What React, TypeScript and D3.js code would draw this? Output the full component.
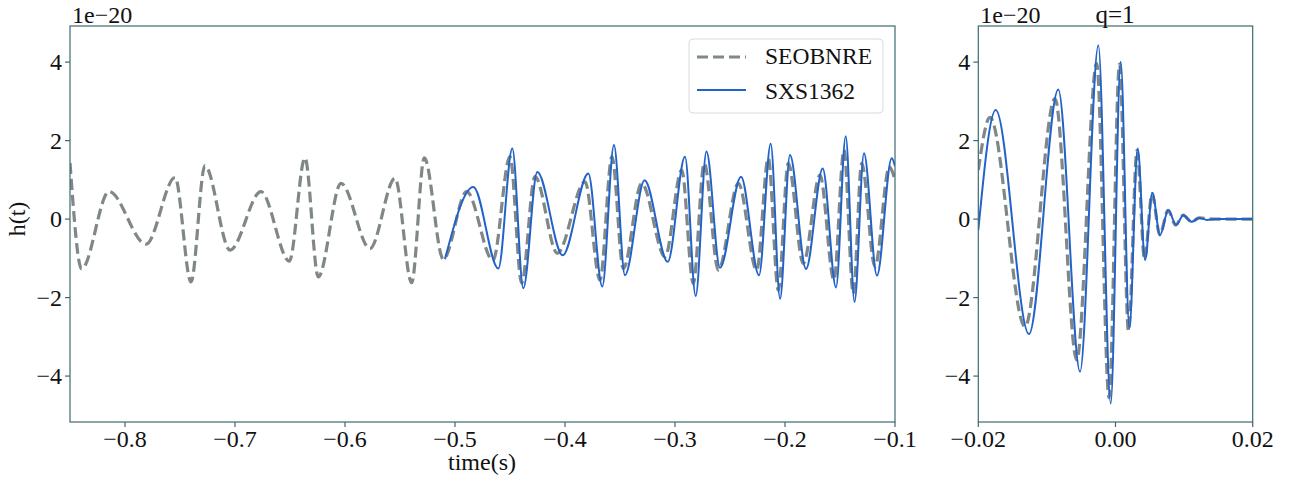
import React from "react";
import * as d3 from "d3";

// ---- Data (strain in units of 1e-20) ----
const leftSeobT = [-0.85, -0.8394, -0.8145, -0.7809, -0.7545, -0.74, -0.7273, -0.7045, -0.6764, -0.6506, -0.6364, -0.6243, -0.6036, -0.5773, -0.5545, -0.5394, -0.5279, -0.5106, -0.4894, -0.4655, -0.45, -0.4394, -0.4273, -0.407, -0.3818, -0.3682, -0.3573, -0.347, -0.3303, -0.3091, -0.2939, -0.2834, -0.2734, -0.2606, -0.2424, -0.2257, -0.2152, -0.2061, -0.197, -0.1834, -0.1682, -0.1555, -0.1464, -0.1379, -0.1303, -0.1182, -0.1052, -0.1];
const leftSeobH = [1.43, -1.27, 0.7, -0.64, 1.06, -1.6, 1.36, -0.79, 0.7, -1.07, 1.56, -1.47, 0.91, -0.75, 1.04, -1.62, 1.56, -1.02, 0.7, -1.05, 1.59, -1.63, 1.08, -0.87, 0.95, -1.55, 1.59, -1.26, 0.91, -0.96, 1.25, -1.64, 1.42, -1.3, 0.91, -1.3, 1.55, -1.81, 1.42, -1.13, 1.12, -1.55, 1.76, -1.89, 1.42, -1.21, 1.33, 1.0];

const leftSxsT = [-0.5091, -0.4833, -0.4606, -0.4479, -0.4379, -0.4252, -0.4021, -0.3788, -0.3661, -0.3555, -0.3455, -0.3277, -0.3066, -0.2909, -0.2812, -0.2714, -0.2591, -0.24, -0.2236, -0.213, -0.2045, -0.1955, -0.1809, -0.1657, -0.1536, -0.1448, -0.1368, -0.1282, -0.1164, -0.103, -0.1];
const leftSxsH = [-1.02, 0.82, -1.26, 1.8, -1.76, 1.2, -0.92, 1.16, -1.72, 1.89, -1.43, 0.99, -1.09, 1.59, -1.96, 1.72, -1.24, 1.08, -1.43, 1.92, -2.03, 1.63, -1.27, 1.29, -1.74, 2.11, -2.11, 1.68, -1.44, 1.55, 1.35];

const rightSeobT = [-0.02, -0.0183, -0.01319, -0.00882, -0.00565, -0.00274, -0.00094, 0.00059, 0.0019, 0.00314, 0.00424, 0.00533, 0.00645, 0.00766, 0.00878, 0.00985, 0.01108, 0.01218, 0.0145, 0.02];
const rightSeobH = [1.25, 2.59, -2.74, 3.07, -3.59, 3.97, -4.55, 3.95, -2.85, 1.75, -1.02, 0.65, -0.4, 0.22, -0.15, 0.1, -0.07, 0.03, 0.0, 0.0];

const rightSxsT = [-0.02, -0.01746, -0.01261, -0.00834, -0.00517, -0.0025, -0.0007, 0.00076, 0.00202, 0.00324, 0.00431, 0.00537, 0.00649, 0.0077, 0.00882, 0.00989, 0.01111, 0.01222, 0.01334, 0.0145, 0.02];
const rightSxsH = [-0.28, 2.78, -2.93, 3.3, -3.89, 4.43, -4.7, 4.01, -2.78, 1.8, -1.04, 0.67, -0.41, 0.23, -0.15, 0.1, -0.07, 0.03, -0.02, 0.0, 0.0];

const yTicks = [-4, -2, 0, 2, 4];
const leftXTicks = [-0.8, -0.7, -0.6, -0.5, -0.4, -0.3, -0.2, -0.1];
const rightXTicks = [-0.02, 0.0, 0.02];
const seriesNames = ["SEOBNRE", "SXS1362"];
const yLabel = "h(t)";
const xLabel = "time(s)";
const rightTitle = "q=1";
const offsetText = "1e\u221220";

// ---- Styles ----
const FONT = "Liberation Serif";
const SPINE = "#3e6a6e";
const GRAY = "#7f8787";
const BLUE = "#2263c9";
const TOP = 26;
const BOTTOM = 422;

const fmtMinus = (s: string) => s.replace("-", "\u2212");

type PanelProps = {
  id: string;
  x0: number;
  x1: number;
  domain: [number, number];
  xTicks: number[];
  xFmt: (v: number) => string;
  seob: { t: number[]; h: number[] };
  sxs: { t: number[]; h: number[] };
};

const yScale = d3.scaleLinear().domain([-5.17, 4.92]).range([BOTTOM, TOP]);

function Panel({ id, x0, x1, domain, xTicks, xFmt, seob, sxs }: PanelProps) {
  const x = d3.scaleLinear().domain(domain).range([x0, x1]);
  const line = d3
    .line<[number, number]>()
    .x((d) => x(d[0]))
    .y((d) => yScale(d[1]))
    .curve(d3.curveMonotoneX);
  const seobPts = seob.t.map((t, i) => [t, seob.h[i]] as [number, number]);
  const sxsPts = sxs.t.map((t, i) => [t, sxs.h[i]] as [number, number]);
  return (
    <g>
      <defs>
        <clipPath id={id}>
          <rect x={x0} y={TOP} width={x1 - x0} height={BOTTOM - TOP} />
        </clipPath>
      </defs>
      <g clipPath={`url(#${id})`}>
        <path d={line(seobPts) || ""} fill="none" stroke={GRAY} strokeWidth={3.2} strokeDasharray="11,5" />
        <path d={line(sxsPts) || ""} fill="none" stroke={BLUE} strokeWidth={2} />
      </g>
      <rect x={x0} y={TOP} width={x1 - x0} height={BOTTOM - TOP} fill="none" stroke={SPINE} strokeWidth={1.2} />
      {yTicks.map((v) => (
        <g key={"y" + v}>
          <line x1={x0 - 5} x2={x0} y1={yScale(v)} y2={yScale(v)} stroke={SPINE} strokeWidth={1.2} />
          <text x={x0 - 8} y={yScale(v) + 8} textAnchor="end" style={{ fontFamily: FONT, fontSize: 24 }} fill="#111">
            {fmtMinus(String(v))}
          </text>
        </g>
      ))}
      {xTicks.map((v) => (
        <g key={"x" + v}>
          <line x1={x(v)} x2={x(v)} y1={BOTTOM} y2={BOTTOM + 5} stroke={SPINE} strokeWidth={1.2} />
          <text x={x(v)} y={447} textAnchor="middle" style={{ fontFamily: FONT, fontSize: 24 }} fill="#111">
            {xFmt(v)}
          </text>
        </g>
      ))}
      <text x={x0 + 2} y={22.5} style={{ fontFamily: FONT, fontSize: 24 }} fill="#111">
        {offsetText}
      </text>
    </g>
  );
}

export default function App() {
  const f1 = d3.format(".1f");
  const f2 = d3.format(".2f");
  return (
    <svg
      width={1296}
      height={482}
      style={{ position: "absolute", left: 0, top: 0, background: "#fff" }}
    >
      <rect width={1296} height={482} fill="#fff" />
      <Panel
        id="clipL"
        x0={70}
        x1={895}
        domain={[-0.85, -0.1]}
        xTicks={leftXTicks}
        xFmt={(v) => fmtMinus(f1(v))}
        seob={{ t: leftSeobT, h: leftSeobH }}
        sxs={{ t: leftSxsT, h: leftSxsH }}
      />
      <Panel
        id="clipR"
        x0={978.3}
        x1={1252.7}
        domain={[-0.02, 0.02]}
        xTicks={rightXTicks}
        xFmt={(v) => fmtMinus(f2(v))}
        seob={{ t: rightSeobT, h: rightSeobH }}
        sxs={{ t: rightSxsT, h: rightSxsH }}
      />
      {/* Legend */}
      <g>
        <rect x={689} y={39} width={194} height={74} rx={4} fill="#fff" fillOpacity={0.85} stroke="#d5dde0" strokeWidth={1} />
        <line x1={697} x2={746} y1={57} y2={57} stroke={GRAY} strokeWidth={3.2} strokeDasharray="11,5" />
        <text x={765} y={64} style={{ fontFamily: FONT, fontSize: 23.5 }} fill="#111">{seriesNames[0]}</text>
        <line x1={697} x2={746} y1={90} y2={90} stroke={BLUE} strokeWidth={2} />
        <text x={765} y={99} style={{ fontFamily: FONT, fontSize: 23.5 }} fill="#111">{seriesNames[1]}</text>
      </g>
      {/* Labels */}
      <text x={482} y={470} textAnchor="middle" style={{ fontFamily: FONT, fontSize: 24 }} fill="#111">{xLabel}</text>
      <text transform="translate(25,219) rotate(-90)" textAnchor="middle" style={{ fontFamily: FONT, fontSize: 24 }} fill="#111">{yLabel}</text>
      <text x={1115} y={23} textAnchor="middle" style={{ fontFamily: FONT, fontSize: 25 }} fill="#111">{rightTitle}</text>
    </svg>
  );
}
